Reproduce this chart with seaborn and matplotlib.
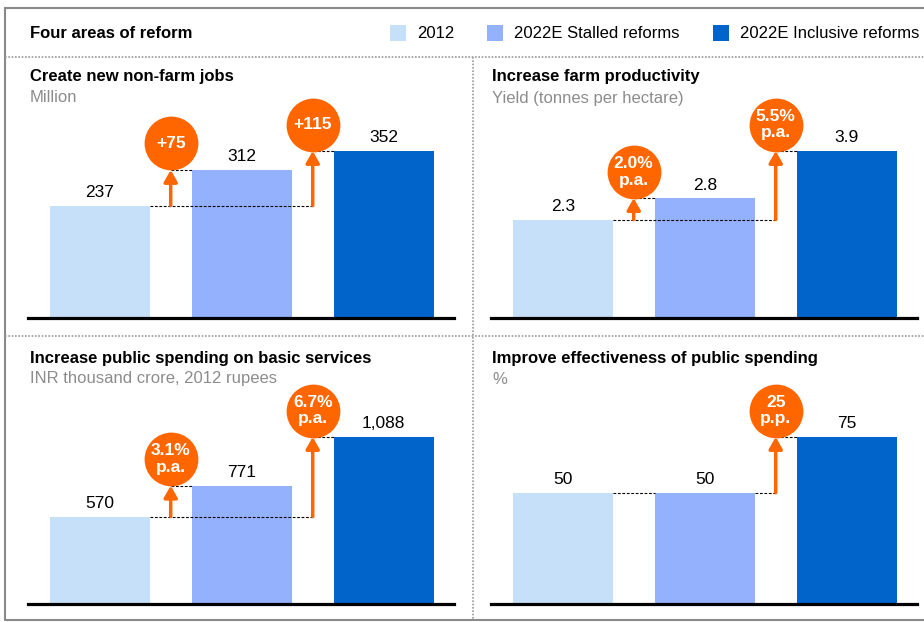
'''Four areas of reform - grouped bar panels with growth markers.'''

import seaborn as sns
import pandas as pd
import matplotlib.pyplot as plt
from matplotlib.patches import Rectangle
from matplotlib.transforms import offset_copy

series = ['2012', '2022E Stalled reforms', '2022E Inclusive reforms']
bar_colors = ['#C6E0FA', '#93B1FD', '#0064CA']
orange = '#FF6600'

panel_titles = ['Create new non-farm jobs', 'Increase farm productivity',
                'Increase public spending on basic services',
                'Improve effectiveness of public spending']
panel_units = ['Million', 'Yield (tonnes per hectare)',
               'INR thousand crore, 2012 rupees', '%']

values_2012 = [237, 2.3, 570, 50]
values_stalled = [312, 2.8, 771, 50]
values_inclusive = [352, 3.9, 1088, 75]

growth_stalled = ['+75', '2.0%\np.a.', '3.1%\np.a.', None]
growth_inclusive = ['+115', '5.5%\np.a.', '6.7%\np.a.', '25\np.p.']

W, H = 924, 622
fig = plt.figure(figsize=(W / 100, H / 100), dpi=100, facecolor='white')
sns.set_theme(style='white')
plt.rcParams['font.family'] = ['Liberation Sans', 'DejaVu Sans']
plt.rcParams['text.color'] = 'black'

# overlay in pixel coordinates for frame, header and panel titles
bg = fig.add_axes([0, 0, 1, 1], zorder=0)
bg.set_xlim(0, W)
bg.set_ylim(H, 0)
bg.axis('off')

frame_kw = dict(color='#8a8a8a', lw=1.5)
bg.plot([5, 5], [8, 620], **frame_kw)
bg.plot([5, W], [8, 8], **frame_kw)
bg.plot([5, W], [620, 620], **frame_kw)
dot_kw = dict(color='#9a9a9a', lw=1.2, ls=(0, (1, 1)))
bg.plot([5, W], [57, 57], **dot_kw)
bg.plot([5, W], [336, 336], **dot_kw)
bg.plot([473, 473], [57, 620], **dot_kw)

bg.text(30, 33, 'Four areas of reform', fontsize=12, fontweight='bold',
        va='center', ha='left', color='black')
for sx, name, col in zip([390, 487, 713], series, bar_colors):
    bg.add_patch(Rectangle((sx, 25), 16, 16, color=col, lw=0))
    bg.text(sx + 27, 33, name, fontsize=12, va='center', ha='left', color='black')

# panel layout: (left px, baseline px)
panel_pos = [(28, 318), (491, 318), (28, 604), (491, 604)]
title_pos = [(30, 77), (492, 77), (30, 358), (492, 358)]
panel_w = 426
head = 1.3
panel_h = 167 * head
bar_w = 0.707

for i in range(4):
    left, base = panel_pos[i]
    ax = fig.add_axes([left / W, (H - base) / H, panel_w / W, panel_h / H], zorder=2)
    ax.set_facecolor('none')

    vals = [values_2012[i], values_stalled[i], values_inclusive[i]]
    df = pd.DataFrame({'series': series, 'value': vals})
    sns.barplot(data=df, x='series', y='value', hue='series', palette=bar_colors,
                width=bar_w, saturation=1, legend=False, ax=ax, zorder=2,
                linewidth=0)

    ax.set_xlim(-0.505, 2.495)
    ax.set_ylim(0, max(vals) * head)
    ax.set_xticks([])
    ax.set_yticks([])
    ax.set_xlabel('')
    ax.set_ylabel('')
    for s in ['top', 'left', 'right']:
        ax.spines[s].set_visible(False)
    ax.spines['bottom'].set_linewidth(2.3)
    ax.spines['bottom'].set_color('black')

    for j, v in enumerate(vals):
        ax.annotate(f'{v:,}', (j, v), xytext=(0, 4), textcoords='offset points',
                    ha='center', va='bottom', fontsize=12.5, color='black')

    dash = dict(color='black', lw=0.8, ls=(0, (2.5, 1.5)), zorder=3)
    half = bar_w / 2
    v0, v1, v2 = vals
    # baseline reference from first bar
    if v1 == v0:
        ax.plot([half, 1 - half], [v0, v0], **dash)
        ax.plot([1 + half, 1.5], [v0, v0], **dash)
    else:
        ax.plot([half, 1.5], [v0, v0], **dash)
    ax.plot([1.5, 2 - half], [v2, v2], **dash)

    circle_tr = offset_copy(ax.transData, fig=fig, x=0, y=26.5, units='dots')
    arrows = []
    if growth_stalled[i] is not None:
        ax.plot([0.5, 1 - half], [v1, v1], **dash)
        arrows.append((0.5, v0, v1, growth_stalled[i]))
    arrows.append((1.5, v0, v2, growth_inclusive[i]))

    for ax_x, a0, a1, lab in arrows:
        ax.annotate('', xy=(ax_x, a1), xytext=(ax_x, a0),
                    arrowprops=dict(arrowstyle='-|>,head_width=0.4,head_length=0.7',
                                    color=orange, lw=2.5, mutation_scale=10,
                                    shrinkA=0, shrinkB=0),
                    zorder=4)
        ax.scatter([ax_x], [a1], s=1500, color=orange, transform=circle_tr,
                   zorder=5, clip_on=False, linewidths=0)
        ax.text(ax_x, a1, lab, transform=circle_tr, ha='center', va='center',
                color='white', fontsize=12.5, fontweight='bold', linespacing=1.15,
                zorder=6)

    tx, ty = title_pos[i]
    bg.text(tx, ty, panel_titles[i], fontsize=12, fontweight='bold',
            va='center', ha='left', color='black')
    bg.text(tx, ty + 21, panel_units[i], fontsize=12, color='#8c8c8c',
            va='center', ha='left')

plt.savefig('out.png', dpi=100, facecolor='white')
